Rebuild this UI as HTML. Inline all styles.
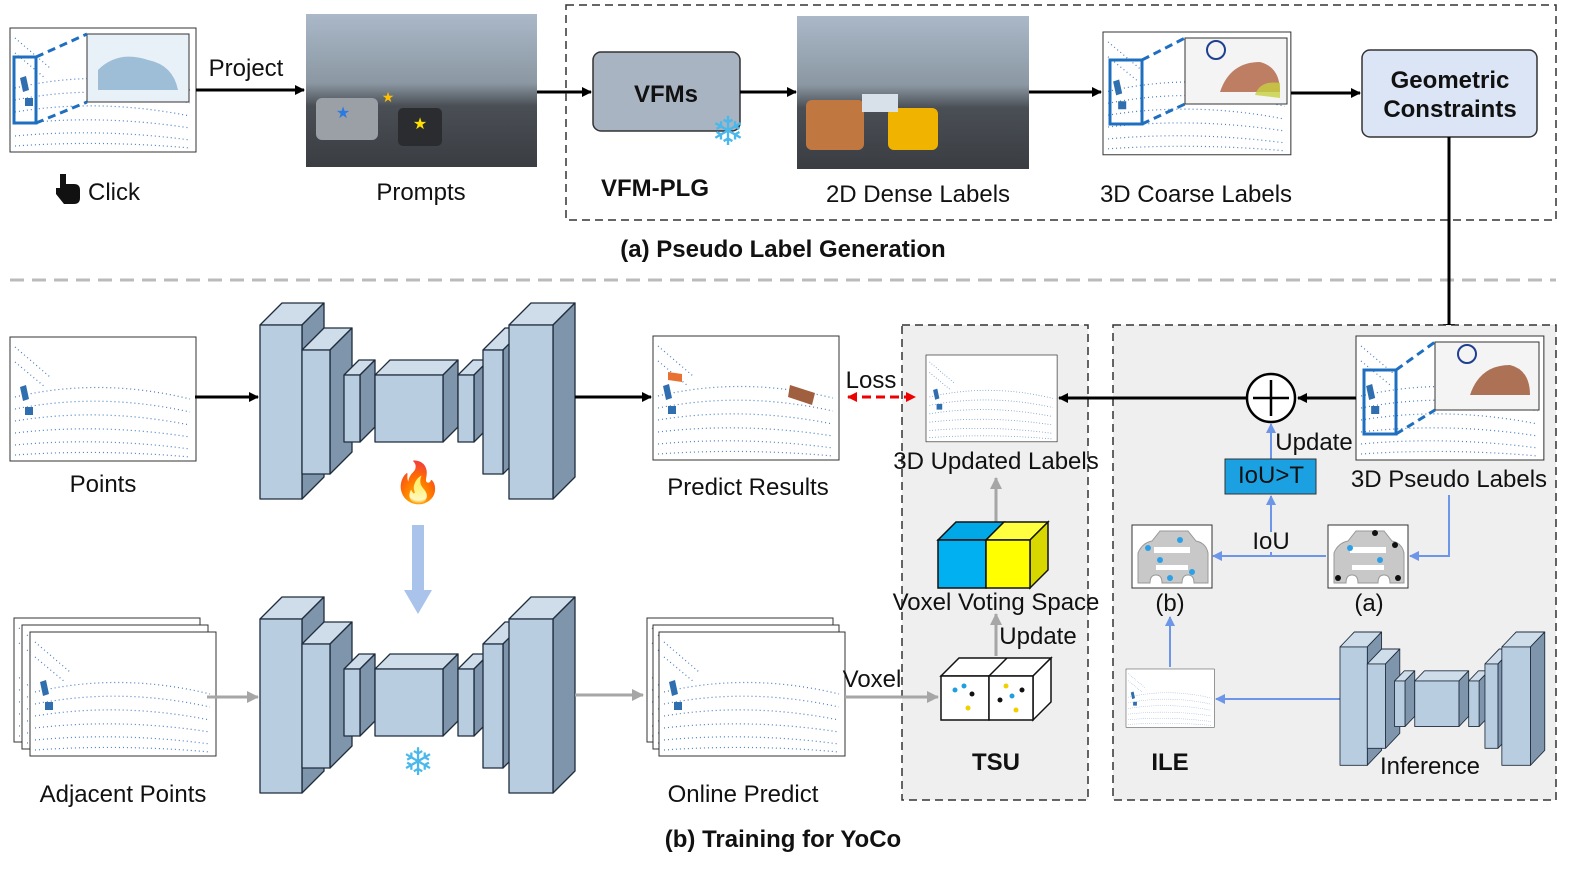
<!DOCTYPE html>
<html><head><meta charset="utf-8"><style>
html,body{margin:0;padding:0;background:#fff;}
svg{display:block;font-family:"Liberation Sans",sans-serif;}
.lbl{font-size:24px;fill:#111;text-anchor:middle;}
.b{font-weight:bold;}
</style></head><body>
<svg width="1578" height="869" viewBox="0 0 1578 869" xmlns="http://www.w3.org/2000/svg">
<defs>
<marker id="ak" markerWidth="10" markerHeight="10" refX="9" refY="5" orient="auto" markerUnits="userSpaceOnUse"><path d="M0,0 L10,5 L0,10z" fill="#000"/></marker>
<marker id="ag" markerWidth="12" markerHeight="12" refX="11" refY="6" orient="auto" markerUnits="userSpaceOnUse"><path d="M0,0 L12,6 L0,12z" fill="#a6a6a6"/></marker>
<marker id="ab" markerWidth="10" markerHeight="10" refX="9" refY="5" orient="auto" markerUnits="userSpaceOnUse"><path d="M0,0 L10,5 L0,10z" fill="#6d95e8"/></marker>
<marker id="ar" markerWidth="10" markerHeight="10" refX="9" refY="5" orient="auto" markerUnits="userSpaceOnUse"><path d="M0,0 L10,5 L0,10z" fill="#e00"/></marker>
<marker id="arl" markerWidth="10" markerHeight="10" refX="1" refY="5" orient="auto" markerUnits="userSpaceOnUse"><path d="M10,0 L0,5 L10,10z" fill="#e00"/></marker>
<linearGradient id="sky" x1="0" y1="0" x2="0" y2="1"><stop offset="0" stop-color="#aab8c8"/><stop offset="0.45" stop-color="#8b98a3"/><stop offset="0.6" stop-color="#4a4f55"/><stop offset="1" stop-color="#3a3d42"/></linearGradient>
<g id="pc">
<rect x="0" y="0" width="186" height="124" fill="#fff" stroke="#333" stroke-width="1"/>
<g fill="none" stroke="#4a7fc0" stroke-width="1.2" stroke-dasharray="1 3">
<path d="M5,60 Q90,40 180,62"/><path d="M5,72 Q90,55 180,75"/><path d="M5,84 Q90,70 180,88"/><path d="M5,96 Q90,86 180,100"/><path d="M5,108 Q90,100 180,112"/><path d="M5,118 Q90,112 180,120"/>
<path d="M5,10 L40,40"/><path d="M5,25 L35,50"/>
</g>
<path d="M10,50 l6,-2 l3,14 l-6,2z M15,70 l8,0 l0,8 l-8,0z" fill="#2f6fb0"/>
</g>
<g id="net">
<g stroke="#1f2d3d" stroke-width="1.3" stroke-linejoin="round">
<polygon points="260,325 282,303 324,303 302,325" fill="#cfdcea"/><polygon points="302,325 324,303 324,477 302,499" fill="#7f95ab"/><rect x="260" y="325" width="42" height="174" fill="#b9cde1"/>
<polygon points="302,350 324,328 352,328 330,350" fill="#cfdcea"/><polygon points="330,350 352,328 352,452 330,474" fill="#7f95ab"/><rect x="302" y="350" width="28" height="124" fill="#b9cde1"/>
<polygon points="344,375 359,360 375,360 360,375" fill="#cfdcea"/><polygon points="360,375 375,360 375,427 360,442" fill="#7f95ab"/><rect x="344" y="375" width="16" height="67" fill="#b9cde1"/>
<polygon points="375,375 390,360 458,360 443,375" fill="#cfdcea"/><polygon points="443,375 458,360 458,427 443,442" fill="#7f95ab"/><rect x="375" y="375" width="68" height="67" fill="#b9cde1"/>
<polygon points="458,375 473,360 489,360 474,375" fill="#cfdcea"/><polygon points="474,375 489,360 489,427 474,442" fill="#7f95ab"/><rect x="458" y="375" width="16" height="67" fill="#b9cde1"/>
<polygon points="483,350 505,328 525,328 503,350" fill="#cfdcea"/><polygon points="503,350 525,328 525,452 503,474" fill="#7f95ab"/><rect x="483" y="350" width="20" height="124" fill="#b9cde1"/>
<polygon points="509,325 531,303 575,303 553,325" fill="#cfdcea"/><polygon points="553,325 575,303 575,477 553,499" fill="#7f95ab"/><rect x="509" y="325" width="44" height="174" fill="#b9cde1"/>
</g></g>
<g id="car">
<rect x="0" y="0" width="80" height="63" fill="#fff" stroke="#333"/>
<path d="M6,58 L6,28 Q10,18 20,16 L28,6 L56,6 L64,16 Q74,18 76,28 L76,58 L62,58 Q62,50 56,50 Q50,50 50,58 L30,58 Q30,50 24,50 Q18,50 18,58z" fill="#c8c8c8" stroke="#999"/>
<rect x="22" y="22" width="36" height="6" fill="#fff"/><rect x="24" y="40" width="32" height="5" fill="#fff"/>
</g>
</defs>

<!-- TOP -->
<use href="#pc" x="10" y="28"/>
<rect x="14" y="57" width="22" height="66" fill="none" stroke="#1f6fc0" stroke-width="3"/>
<rect x="87" y="34" width="102" height="68" fill="#e8f0f8" stroke="#333"/>
<path d="M36,57 L87,34 M36,123 L87,102" stroke="#1f6fc0" stroke-width="3" stroke-dasharray="8 5"/>
<path d="M98,70 q20,-20 50,-10 q25,5 30,30 l-80,0z" fill="#7fa6c8" opacity="0.7"/>
<path d="M60,174 h6 v10 h8 q6,0 6,6 v8 q0,6 -6,6 h-10 l-8,-10 v-6 h4z" fill="#111"/>
<text x="88" y="200" class="lbl" style="text-anchor:start">Click</text>
<line x1="196" y1="90" x2="304" y2="90" stroke="#000" stroke-width="3" marker-end="url(#ak)"/>
<text x="246" y="76" class="lbl">Project</text>

<rect x="306" y="14" width="231" height="153" fill="url(#sky)"/>
<rect x="316" y="98" width="62" height="42" fill="#9aa0a6" rx="6"/><rect x="398" y="108" width="44" height="38" fill="#2a2c30" rx="5"/>
<text x="343" y="118" font-size="16" fill="#2a7ae2" text-anchor="middle">★</text><text x="420" y="129" font-size="16" fill="#ffe000" text-anchor="middle">★</text><text x="388" y="102" font-size="14" fill="#ffc000" text-anchor="middle">★</text>
<text x="421" y="200" class="lbl">Prompts</text>
<line x1="537" y1="92" x2="591" y2="92" stroke="#000" stroke-width="3" marker-end="url(#ak)"/>

<rect x="566" y="5" width="990" height="215" fill="none" stroke="#333" stroke-width="1.5" stroke-dasharray="8 5"/>
<rect x="593" y="52" width="147" height="79" rx="8" fill="#a8b4c2" stroke="#333" stroke-width="1.5"/>
<text x="666" y="102" class="lbl b" font-size="28">VFMs</text>
<text x="728" y="145" font-size="40" fill="#4ab8ea" text-anchor="middle">❄</text>
<text x="655" y="196" class="lbl b" font-size="28">VFM-PLG</text>
<line x1="740" y1="92" x2="796" y2="92" stroke="#000" stroke-width="3" marker-end="url(#ak)"/>

<rect x="797" y="16" width="232" height="153" fill="url(#sky)"/>
<rect x="806" y="100" width="58" height="50" rx="6" fill="#c07840"/><rect x="888" y="108" width="50" height="42" rx="6" fill="#f0b400"/><rect x="862" y="94" width="36" height="18" fill="#d8e0ea"/>
<text x="918" y="202" class="lbl">2D Dense Labels</text>
<line x1="1029" y1="92" x2="1101" y2="92" stroke="#000" stroke-width="3" marker-end="url(#ak)"/>

<use href="#pc" transform="translate(1103,32) scale(1.01,0.99)"/>
<rect x="1110" y="60" width="32" height="64" fill="none" stroke="#1f6fc0" stroke-width="3"/>
<rect x="1185" y="38" width="102" height="66" fill="#f4f4f4" stroke="#333"/>
<path d="M1142,60 L1185,38 M1142,124 L1185,104" stroke="#1f6fc0" stroke-width="3" stroke-dasharray="8 5"/>
<path d="M1220,92 q10,-30 40,-30 q20,5 20,30z" fill="#b06040" opacity="0.8"/><path d="M1255,95 q5,-15 25,-12 l0,15z" fill="#c8d040" opacity="0.8"/>
<circle cx="1216" cy="50" r="9" fill="none" stroke="#1f3f90" stroke-width="2"/>
<text x="1196" y="202" class="lbl">3D Coarse Labels</text>
<line x1="1291" y1="93" x2="1360" y2="93" stroke="#000" stroke-width="3" marker-end="url(#ak)"/>

<rect x="1362" y="50" width="175" height="87" rx="8" fill="#dce5f5" stroke="#333" stroke-width="1.5"/>
<text x="1450" y="88" class="lbl b">Geometric</text><text x="1450" y="117" class="lbl b">Constraints</text>
<text x="783" y="257" class="lbl b" font-size="28">(a) Pseudo Label Generation</text>

<line x1="10" y1="280" x2="1556" y2="280" stroke="#bbb" stroke-width="3" stroke-dasharray="14 8"/>
<line x1="1449" y1="137" x2="1449" y2="326" stroke="#000" stroke-width="3"/>
<path d="M1443,324 L1455,324 L1449,336z" fill="#000"/>

<!-- BOTTOM -->
<rect x="902" y="325" width="186" height="475" fill="#efefef" stroke="#333" stroke-width="1.5" stroke-dasharray="8 5"/>
<rect x="1113" y="325" width="443" height="475" fill="#efefef" stroke="#333" stroke-width="1.5" stroke-dasharray="8 5"/>

<use href="#pc" x="10" y="337"/>
<text x="103" y="492" class="lbl">Points</text>
<line x1="195" y1="397" x2="258" y2="397" stroke="#000" stroke-width="3" marker-end="url(#ak)"/>
<use href="#net"/>
<text x="418" y="496" font-size="40" fill="#e83a10" text-anchor="middle">🔥</text>
<line x1="575" y1="397" x2="651" y2="397" stroke="#000" stroke-width="3" marker-end="url(#ak)"/>
<use href="#pc" x="653" y="336"/>
<path d="M668,372 l14,2 l0,8 l-14,-2z" fill="#e87030"/><path d="M790,385 l25,8 l-3,12 l-24,-8z" fill="#a06040"/>
<text x="748" y="495" class="lbl">Predict Results</text>
<line x1="848" y1="397" x2="915" y2="397" stroke="#e00" stroke-width="3" stroke-dasharray="9 5" marker-end="url(#ar)" marker-start="url(#arl)"/>
<text x="871" y="388" class="lbl" font-size="18">Loss</text>

<path d="M412,525 L424,525 L424,590 L432,590 L418,614 L404,590 L412,590z" fill="#a9c3ea"/>

<use href="#pc" x="14" y="618"/><use href="#pc" x="22" y="625"/><use href="#pc" x="30" y="632"/>
<text x="123" y="802" class="lbl">Adjacent Points</text>
<line x1="207" y1="697" x2="258" y2="697" stroke="#a6a6a6" stroke-width="3" marker-end="url(#ag)"/>
<use href="#net" transform="translate(0,294)"/>
<text x="418" y="775" font-size="38" fill="#4ab8ea" text-anchor="middle">❄</text>
<line x1="575" y1="695" x2="643" y2="695" stroke="#a6a6a6" stroke-width="3" marker-end="url(#ag)"/>
<use href="#pc" x="647" y="618"/><use href="#pc" x="653" y="625"/><use href="#pc" x="659" y="632"/>
<text x="743" y="802" class="lbl">Online Predict</text>
<line x1="845" y1="697" x2="938" y2="697" stroke="#a6a6a6" stroke-width="3" marker-end="url(#ag)"/>
<text x="872" y="687" class="lbl" font-size="19">Voxel</text>

<!-- TSU -->
<use href="#pc" transform="translate(926,355) scale(0.705,0.7)"/>
<text x="996" y="469" class="lbl" font-size="17">3D Updated Labels</text>
<line x1="996" y1="522" x2="996" y2="478" stroke="#a6a6a6" stroke-width="3" marker-end="url(#ag)"/>
<g stroke="#111" stroke-width="1.5">
<polygon points="938,540 956,522 1004,522 986,540" fill="#00a8e8"/><rect x="938" y="540" width="48" height="48" fill="#00b0f0"/>
<polygon points="986,540 1004,522 1048,522 1030,540" fill="#ffff40"/><polygon points="1030,540 1048,522 1048,570 1030,588" fill="#d8d800"/><rect x="986" y="540" width="44" height="48" fill="#ffff00"/>
</g>
<text x="996" y="610" class="lbl" font-size="17">Voxel Voting Space</text>
<line x1="996" y1="656" x2="996" y2="614" stroke="#a6a6a6" stroke-width="3" marker-end="url(#ag)"/>
<text x="1038" y="644" class="lbl" font-size="18">Update</text>
<g stroke="#111" stroke-width="1.5" fill="#fff">
<polygon points="941,676 959,658 1051,658 1033,676"/><polygon points="1033,676 1051,658 1051,702 1033,720"/>
<rect x="941" y="676" width="48" height="44"/><rect x="989" y="676" width="44" height="44"/><line x1="989" y1="676" x2="1007" y2="658"/>
</g>
<g fill="#1f9fe0"><circle cx="955" cy="690" r="2.5"/><circle cx="964" cy="686" r="2.5"/><circle cx="1012" cy="696" r="2.5"/></g>
<g fill="#111"><circle cx="972" cy="694" r="2.5"/><circle cx="1000" cy="700" r="2.5"/><circle cx="1022" cy="690" r="2.5"/></g>
<g fill="#f0d000"><circle cx="968" cy="708" r="2.5"/><circle cx="1016" cy="710" r="2.5"/><circle cx="1006" cy="686" r="2.5"/></g>
<text x="996" y="770" class="lbl b" font-size="30">TSU</text>

<!-- ILE -->
<use href="#pc" transform="translate(1356,336) scale(1.01,1)"/>
<rect x="1364" y="370" width="32" height="64" fill="none" stroke="#1f6fc0" stroke-width="3"/>
<rect x="1435" y="342" width="104" height="68" fill="#f4f4f4" stroke="#333"/>
<path d="M1396,370 L1435,342 M1396,434 L1435,410" stroke="#1f6fc0" stroke-width="3" stroke-dasharray="8 5"/>
<path d="M1470,395 q10,-30 40,-30 q20,5 20,30z" fill="#a05a3a" opacity="0.85"/>
<circle cx="1467" cy="354" r="9" fill="none" stroke="#1f3f90" stroke-width="2"/>
<text x="1449" y="487" class="lbl">3D Pseudo Labels</text>
<line x1="1356" y1="398" x2="1298" y2="398" stroke="#000" stroke-width="3" marker-end="url(#ak)"/>
<circle cx="1271" cy="398" r="24" fill="#fff" stroke="#000" stroke-width="2.5"/>
<path d="M1253,398 H1289 M1271,380 V416" stroke="#000" stroke-width="2.5"/>
<line x1="1247" y1="398" x2="1059" y2="398" stroke="#000" stroke-width="3" marker-end="url(#ak)"/>
<line x1="1271" y1="459" x2="1271" y2="424" stroke="#6d95e8" stroke-width="2" marker-end="url(#ab)"/>
<text x="1314" y="450" class="lbl" font-size="19">Update</text>
<rect x="1225" y="459" width="91" height="35" fill="#1ba1e2" stroke="#333"/>
<text x="1271" y="483" class="lbl" font-size="18">IoU&gt;T</text>
<use href="#car" x="1132" y="525"/><use href="#car" x="1328" y="525"/>
<g fill="#2ba0e8"><circle cx="1148" cy="548" r="3"/><circle cx="1160" cy="560" r="3"/><circle cx="1180" cy="540" r="3"/><circle cx="1192" cy="572" r="3"/><circle cx="1170" cy="578" r="3"/><circle cx="1350" cy="548" r="3"/><circle cx="1380" cy="560" r="3"/></g>
<g fill="#111"><circle cx="1375" cy="533" r="3"/><circle cx="1395" cy="545" r="3"/><circle cx="1338" cy="578" r="3"/><circle cx="1398" cy="578" r="3"/></g>
<path d="M1449,495 V556 H1410" fill="none" stroke="#6d95e8" stroke-width="2" marker-end="url(#ab)"/>
<line x1="1326" y1="556" x2="1213" y2="556" stroke="#6d95e8" stroke-width="2" marker-end="url(#ab)"/>
<line x1="1271" y1="556" x2="1271" y2="496" stroke="#6d95e8" stroke-width="2" marker-end="url(#ab)"/>
<rect x="1252" y="532" width="38" height="20" fill="#efefef"/>
<text x="1271" y="549" class="lbl" font-size="18">IoU</text>
<text x="1170" y="611" class="lbl" font-size="18">(b)</text><text x="1369" y="611" class="lbl" font-size="18">(a)</text>
<use href="#pc" transform="translate(1126,669) scale(0.475,0.47)"/>
<line x1="1170" y1="667" x2="1170" y2="617" stroke="#6d95e8" stroke-width="2" marker-end="url(#ab)"/>
<line x1="1340" y1="699" x2="1216" y2="699" stroke="#6d95e8" stroke-width="2" marker-end="url(#ab)"/>
<use href="#net" transform="translate(1340,632) scale(0.65,0.68) translate(-260,-303)"/>
<text x="1430" y="774" class="lbl">Inference</text>
<text x="1170" y="770" class="lbl b" font-size="30">ILE</text>

<text x="783" y="847" class="lbl b" font-size="28">(b) Training for YoCo</text>
</svg>
</body></html>
